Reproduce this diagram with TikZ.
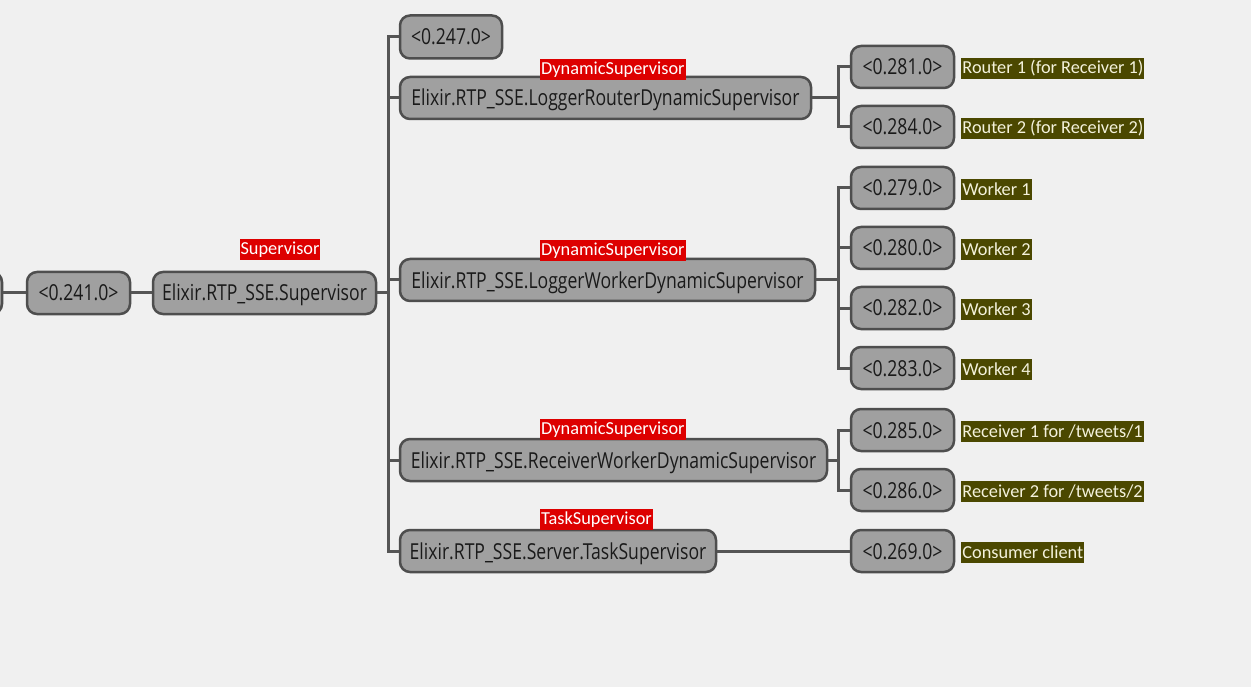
\documentclass[tikz,border=0pt]{standalone}
\usepackage{fontspec}
\newfontfamily\nodefont[FakeStretch=0.8]{Open Sans}
\newfontfamily\labfont{Carlito}
\definecolor{bgc}{HTML}{F0F0F0}
\definecolor{nodefill}{HTML}{A0A0A0}
\definecolor{nodeline}{HTML}{4E4E4E}
\definecolor{linec}{HTML}{555555}
\definecolor{redlab}{HTML}{DD0000}
\definecolor{olivelab}{HTML}{4B4800}
\definecolor{olivetext}{HTML}{F4F2DC}
\definecolor{nodetext}{HTML}{1A1A1A}
\tikzset{
  proc/.style={draw=nodeline, line width=2.5pt, fill=nodefill, rounded corners=10pt,
    minimum height=42pt, inner sep=0pt, text height=18pt, text depth=2pt,
    font=\nodefont\fontsize{22}{26}\selectfont, text=nodetext},
  redtag/.style={fill=redlab, text=white, inner xsep=1pt, inner ysep=0pt, minimum height=21pt,
    font=\labfont\fontsize{18.3}{22}\selectfont, anchor=south west},
  olivetag/.style={fill=olivelab, text=olivetext, inner xsep=1pt, inner ysep=0pt, minimum height=21pt,
    font=\labfont\fontsize{18.3}{22}\selectfont, anchor=west},
  conn/.style={draw=linec, line width=3pt}
}
\begin{document}
\begin{tikzpicture}[x=1pt,y=-1pt]
\fill[bgc] (0,0) rectangle (1251,687);
\useasboundingbox (0,0) rectangle (1251,687);
\clip (0,0) rectangle (1251,687);
% left column
\node[proc, minimum width=102pt] (part) at (-49,293) {};
\node[proc, minimum width=103pt] (p241) at (78.5,293) {<0.241.0>};
\node[proc, minimum width=223pt] (sup) at (264.5,293) {Elixir.RTP\_SSE.Supervisor};
\node[redtag, anchor=south, minimum width=80pt] (supl) at (280,260) {Supervisor};
% middle column
\node[proc, minimum width=102pt, minimum height=43pt] (p247) at (451,37) {<0.247.0>};
\node[proc, minimum width=411pt] (lr) at (605.5,98) {Elixir.RTP\_SSE.LoggerRouterDynamicSupervisor};
\node[proc, minimum width=415pt] (lw) at (607.5,280) {Elixir.RTP\_SSE.LoggerWorkerDynamicSupervisor};
\node[proc, minimum width=427pt] (rw) at (613.5,460) {Elixir.RTP\_SSE.ReceiverWorkerDynamicSupervisor};
\node[proc, minimum width=316pt] (ts) at (558,551) {Elixir.RTP\_SSE.Server.TaskSupervisor};
\node[redtag] (lrl) at (540,80) {DynamicSupervisor};
\node[redtag] (lwl) at (540,261) {DynamicSupervisor};
\node[redtag] (rwl) at (540,440) {DynamicSupervisor};
\node[redtag] (tsl) at (540,530) {TaskSupervisor};
% right column
\foreach \n/\yy in {281/67,284/127,279/188,280/248,282/308,283/368,285/430,286/490,269/551}{
  \node[proc, minimum width=103pt] (p\n) at (902.5,\yy) {<0.\n.0>};
}
\node[olivetag] (l281) at ([xshift=6pt,yshift=-1.5pt]p281.east) {Router 1 (for Receiver 1)};
\node[olivetag] (l284) at ([xshift=6pt,yshift=-1.5pt]p284.east) {Router 2 (for Receiver 2)};
\node[olivetag] (l279) at ([xshift=6pt,yshift=-1.5pt]p279.east) {Worker 1};
\node[olivetag] (l280) at ([xshift=6pt,yshift=-1.5pt]p280.east) {Worker 2};
\node[olivetag] (l282) at ([xshift=6pt,yshift=-1.5pt]p282.east) {Worker 3};
\node[olivetag] (l283) at ([xshift=6pt,yshift=-1.5pt]p283.east) {Worker 4};
\node[olivetag] (l285) at ([xshift=6pt,yshift=-1.5pt]p285.east) {Receiver 1 for /tweets/1};
\node[olivetag] (l286) at ([xshift=6pt,yshift=-1.5pt]p286.east) {Receiver 2 for /tweets/2};
\node[olivetag] (l269) at ([xshift=6pt,yshift=-1.5pt]p269.east) {Consumer client};
% branch points
\coordinate (trunk) at (388,293);
\coordinate (b1) at (838,98);
\coordinate (b2) at (838,280);
\coordinate (b3) at (838,460);
% connectors
\draw[conn] (part.east) -- (p241.west);
\draw[conn] (p241.east) -- (sup.west);
\draw[conn] (sup.east) -- (trunk);
\foreach \c in {p247,lr,lw,rw,ts}{ \draw[conn] (trunk) |- (\c.west); }
\draw[conn] (lr.east) -- (b1);
\foreach \c in {p281,p284}{ \draw[conn] (b1) |- (\c.west); }
\draw[conn] (lw.east) -- (b2);
\foreach \c in {p279,p280,p282,p283}{ \draw[conn] (b2) |- (\c.west); }
\draw[conn] (rw.east) -- (b3);
\foreach \c in {p285,p286}{ \draw[conn] (b3) |- (\c.west); }
\draw[conn] (ts.east) -- (p269.west);
\end{tikzpicture}
\end{document}
